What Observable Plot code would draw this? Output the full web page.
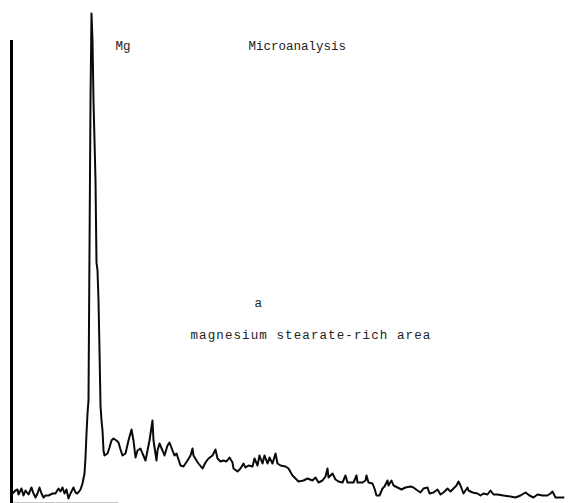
<!DOCTYPE html>
<html>
<head>
<meta charset="utf-8">
<script src="https://cdn.jsdelivr.net/npm/d3@7"></script>
<script src="https://cdn.jsdelivr.net/npm/@observablehq/plot@0.6"></script>
<style>
  html, body { margin: 0; padding: 0; background: #fff; }
  #chart svg { display: block; }
</style>
</head>
<body>
<div id="chart"></div>
<script>
// Energy channel (arbitrary units) and X-ray counts
const channel = [12,15,17,18,21,23,25,28,31,33,35,37,39,41,43,45,48,52,55,58,60,62,64,66,68,70,73,75,77,80,82,84,85,86,87,88,89,90,91,92,93,95,96,97,98,99,100,101,102,103,104,107,109,111,113,116,118,120,122,125,128,131,133,135,137,140,142,145,147,149,152,153,156,157,159,162,164,167,169,172,174,176,180,183,187,190,192,193,196,198,202,205,208,212,215,217,220,223,226,229,232,233,237,240,243,245,248,252,254,257,259,262,264,267,269,272,275,277,280,285,288,292,295,298,303,307,312,315,318,322,325,327,328,332,335,338,342,345,347,350,353,356,357,362,365,366,368,372,374,376,379,382,384,387,388,391,393,397,401,405,410,413,417,420,423,427,429,433,437,440,443,447,450,453,456,458,460,463,467,468,472,477,480,483,487,490,493,497,503,510,515,520,525,529,533,537,542,547,550,552,555,560,563];
const counts = [7,10,11,6,12,5,10,6,13,7,3,7,13,7,3,5,5,7,7,12,9,13,7,11,2,7,13,8,7,11,17,27,43,67,87,100,250,400,487,460,400,320,238,230,200,150,95,80,70,50,45,47,53,60,62,60,58,51,45,47,60,71,60,43,50,52,47,40,50,60,80,60,40,50,57,50,45,55,58,50,45,47,35,34,40,45,52,45,40,37,32,38,42,45,51,42,39,40,39,43,38,32,29,32,37,33,35,34,42,35,45,37,45,37,43,37,47,37,35,34,32,25,22,19,20,22,20,23,18,20,24,32,23,27,21,19,18,25,18,18,18,25,18,18,20,25,18,17,12,5,5,12,14,20,15,20,15,13,11,13,14,13,10,8,12,13,7,8,11,6,8,12,9,12,15,19,15,7,13,10,8,7,5,7,6,10,6,6,5,4,3,5,8,5,3,6,5,5,7,9,3,3,3];

// Annotation texts and their anchor points (channel, counts)
const labelText = ["Mg", "Microanalysis", "a", "magnesium stearate-rich area"];
const labelChannel = [115, 248, 254, 190];
const labelCounts = [455, 455, 198, 166];

// Axis extents (counts axis drawn at the left, baseline segment at the bottom)
const axisChannel = [11];
const axisCounts = [-3, 460];
const baselineChannel = [12, 118];
const baselineCounts = [-2];

const spectrum = channel.map((c, i) => ({channel: c, counts: counts[i]}));
const labels = labelText.map((t, i) => ({text: t, channel: labelChannel[i], counts: labelCounts[i]}));

const chart = Plot.plot({
  width: 571,
  height: 503,
  marginLeft: 0,
  marginRight: 0,
  marginTop: 0,
  marginBottom: 0,
  x: {domain: [0, 571], axis: null},
  y: {domain: [-3, 500], axis: null},
  style: {background: "#fff", fontFamily: "'Liberation Mono', 'Courier New', monospace"},
  marks: [
    Plot.ruleY(baselineCounts, {x1: baselineChannel[0], x2: baselineChannel[1], stroke: "#c8c8c8", strokeWidth: 1}),
    Plot.ruleX(axisChannel, {y1: axisCounts[0], y2: axisCounts[1], stroke: "#000", strokeWidth: 3}),
    Plot.line(spectrum, {x: "channel", y: "counts", stroke: "#0a0a0a", strokeWidth: 2, strokeLinejoin: "round", curve: "linear"}),
    Plot.text(labels, {x: "channel", y: "counts", text: "text", textAnchor: "start", fontSize: 12.5, fill: "#222"})
  ]
});

chart.querySelectorAll("text").forEach(t => {
  if (t.textContent.startsWith("magnesium")) t.setAttribute("letter-spacing", "1.1");
});

document.getElementById("chart").appendChild(chart);
</script>
</body>
</html>
